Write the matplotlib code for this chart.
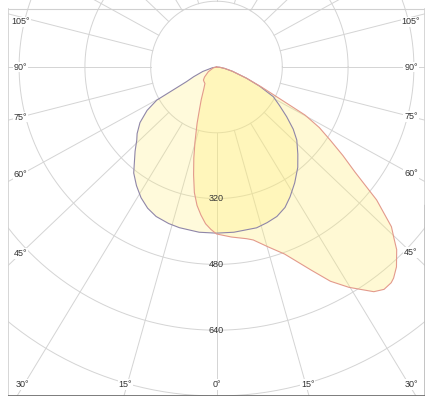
import numpy as np
import matplotlib
matplotlib.use("Agg")
import matplotlib.pyplot as plt

# ---- data (angle in degrees from nadir, positive to the right; intensity in cd) ----
c1_angles = [-90, -80, -72, -67, -64, -61, -58, -54, -50, -47.5, -44, -38, -34, -30,
             -26, -22, -17, -13, -6, 0, 6, 14, 18, 22, 26, 29.5, 34, 39, 43, 47.7,
             51, 54.7, 58.5, 62.4, 66, 69.5, 75, 80, 85, 90]
c1_values = [0, 10, 35, 60, 81, 166, 199, 230, 252, 263, 285, 327, 348, 367,
             382, 392, 398, 401, 404, 404, 404, 403, 398, 392, 380, 363, 340, 314, 290, 264,
             240, 209, 180, 156, 115, 78, 40, 20, 8, 0]

c2_angles = [-90, -75, -60, -50, -45, -40, -35, -30, -25, -22, -19, -16, -14, -12, -10,
             -8, -6, -4, -2, 0, 5, 10, 12, 16, 20, 25, 28, 31, 33, 35, 37, 39, 40, 42,
             44.6, 46, 47.6, 50.3, 52.8, 55, 57.3, 59.5, 61.5, 63.7, 66, 69.5, 75, 80, 85, 90]
c2_values = [0, 8, 23, 38, 45, 47, 49, 62, 88, 110, 145, 190, 228, 268, 310,
             340, 362, 382, 395, 406, 415, 424, 430, 455, 484, 545, 590, 625, 645, 667, 677, 675, 670, 654,
             624, 600, 576, 506, 423, 375, 328, 290, 245, 163, 120, 78, 40, 20, 8, 0]

ring_values = [160, 320, 480, 640, 800]
ring_labels = [320, 480, 640]
spoke_angles = list(range(0, 360, 15))
side_angles = [105, 90, 75, 60, 45]
bottom_angles = [-30, -15, 0, 15, 30]

# ---- layout ----
W, H = 432, 403
s = 0.41125             # pixels per cd
cx, cy = 216.5, 67.0    # pole in pixels
left_px, right_px, bottom_px = 8, 425, 396
spoke_aspect = 1.05     # the reference draws its spokes slightly widened horizontally

fig = plt.figure(figsize=(W / 100, H / 100), dpi=100)
ax = fig.add_axes([left_px / W, (H - bottom_px) / H, (right_px - left_px) / W, bottom_px / H])
ax.set_xlim(-(cx - left_px) / s, (right_px - cx) / s)
ax.set_ylim(-(bottom_px - cy) / s, cy / s)
ax.set_aspect("equal", adjustable="box")
ax.axis("off")

grid_col = "#d4d4d4"
t = np.linspace(0, 2 * np.pi, 400)
for r in ring_values:
    ax.plot(r * np.cos(t), r * np.sin(t), color=grid_col, lw=0.7, zorder=1)


def spoke_dir(a):
    th = np.radians(a)
    dx, dy = spoke_aspect * np.sin(th), -np.cos(th)
    n = np.hypot(dx, dy)
    return dx / n, dy / n


for a in spoke_angles:
    ux, uy = spoke_dir(a)
    ax.plot([160 * ux, 2000 * ux], [160 * uy, 2000 * uy], color=grid_col, lw=0.7, zorder=1)


def xy(angles, vals):
    th = np.radians(np.asarray(angles, float))
    v = np.asarray(vals, float)
    return v * np.sin(th), -v * np.cos(th)

x1, y1 = xy(c1_angles, c1_values)
x2, y2 = xy(c2_angles, c2_values)
ax.fill(x1, y1, facecolor=(1.0, 0.93, 0.45), alpha=0.25, edgecolor="none", zorder=2)
ax.fill(x2, y2, facecolor=(1.0, 0.93, 0.45), alpha=0.30, edgecolor="none", zorder=2)
ax.plot(x1, y1, color="#8f86a8", lw=0.8, zorder=3)
ax.plot(x2, y2, color="#e39a8c", lw=0.8, zorder=3)

# frame
top_y = (cy - 9) / s
xl, xr = ax.get_xlim()
yb, yt = ax.get_ylim()
ax.plot([xl, xr], [top_y, top_y], color="#d0d0d0", lw=0.8, zorder=4)
ax.plot([xl, xl], [yb, top_y], color="#d0d0d0", lw=1.2, zorder=4)
ax.plot([xr, xr], [yb, top_y], color="#d0d0d0", lw=1.2, zorder=4)
ax.plot([xr, xr], [yb, -(205 - cy) / s], color="#777777", lw=1.0, zorder=4)
ax.plot([xl, xr], [yb, yb], color="#666666", lw=1.2, zorder=4)

fs = 6.5
fam = ["Liberation Sans", "DejaVu Sans"]
tc = "#333333"
bbox = dict(facecolor="white", edgecolor="none", pad=0.6)

for r in ring_labels:
    ax.text(0, -r, str(r), ha="center", va="center", fontsize=fs, family=fam, color=tc, zorder=5)

label_top_limit = (cy - 22) / s   # keep side labels clear of the top frame line
for a in side_angles:
    ux, uy = spoke_dir(a)
    xL = xl + 12.5 / s
    yL = min(-xL / ux * uy, label_top_limit)
    ax.text(xL, yL, f"{a}°", ha="center", va="center", fontsize=fs, family=fam,
            color=tc, bbox=bbox, zorder=5)
    xR = xr - 14 / s
    yR = min(xR / ux * uy, label_top_limit)
    ax.text(xR, yR, f"{a}°", ha="center", va="center", fontsize=fs, family=fam,
            color=tc, bbox=bbox, zorder=5)

for a in bottom_angles:
    ux, uy = spoke_dir(a)
    yl = yb + 11.5 / s
    xb = yl / uy * ux
    shift = np.sign(a) * 2 / s
    ax.text(xb + shift, yl, f"{abs(a)}°", ha="center", va="center", fontsize=fs,
            family=fam, color=tc, bbox=bbox, zorder=5)

fig.savefig("out.png", dpi=100, facecolor="white")
